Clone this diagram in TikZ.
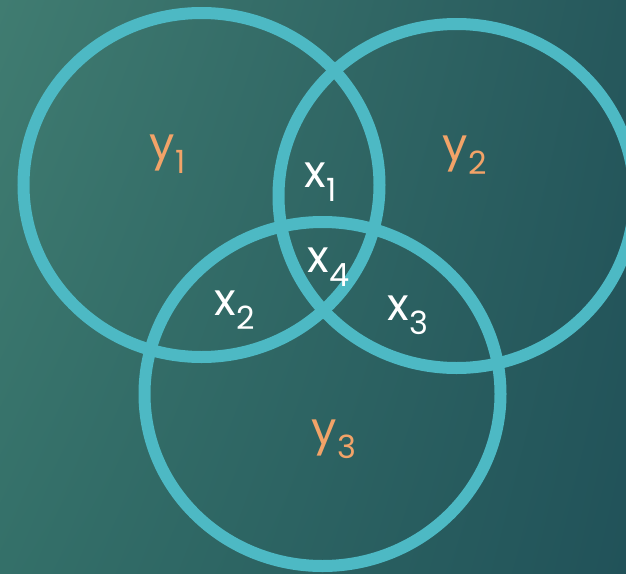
\documentclass[tikz,border=0pt]{standalone}
\usepackage{fontspec}
\setmainfont{Poppins}
\usepackage{tikz}
\usetikzlibrary{positioning, shadings}
\definecolor{bgtl}{RGB}{64,124,113}
\definecolor{bgtr}{RGB}{38,88,92}
\definecolor{bgbl}{RGB}{52,112,105}
\definecolor{bgbr}{RGB}{33,82,89}
\definecolor{ringblue}{RGB}{77,185,196}
\definecolor{keyorange}{RGB}{242,163,104}
\newcommand{\subidx}[1]{\kern1pt\raisebox{-14pt}{\fontsize{32}{34}\selectfont #1}}

\begin{document}
\begin{tikzpicture}[x=1pt, y=-1pt,
    ring/.style={draw=ringblue, line width=12pt},
    lbl/.style={inner sep=0pt, anchor=base west,
                font=\fontsize{45}{52}\selectfont},
    ylbl/.style={lbl, text=keyorange},
    xlbl/.style={lbl, text=white}]
  \useasboundingbox (0,0) rectangle (626,573);
  \shade[upper left=bgtl, upper right=bgtr, lower left=bgbl, lower right=bgbr]
    (0,0) rectangle (626,573);
  \clip (0,0) rectangle (626,573);
  % the three sets
  \coordinate (c1) at (201.5,185);
  \coordinate (c2) at (456.5,196);
  \coordinate (c3) at (322.5,394);
  \draw[ring] (c1) ellipse [x radius=178pt, y radius=172pt];
  \draw[ring] (c2) ellipse [x radius=178pt, y radius=172pt];
  \draw[ring] (c3) ellipse [x radius=178pt, y radius=172pt];
  % labels
  \node[ylbl] (y1) at (149,159) {y\subidx{1}};
  \node[ylbl] (y2) at (442,160) {y\subidx{2}};
  \node[ylbl] (y3) at (311,444) {y\subidx{3}};
  \node[xlbl] (x1) at (304,187) {x\subidx{1}};
  \node[xlbl] (x4) at (307,272) {x\subidx{4}};
  \node[xlbl] (x2) at (214,315) {x\subidx{2}};
  \node[xlbl] (x3) at (387,320) {x\subidx{3}};
\end{tikzpicture}
\end{document}
